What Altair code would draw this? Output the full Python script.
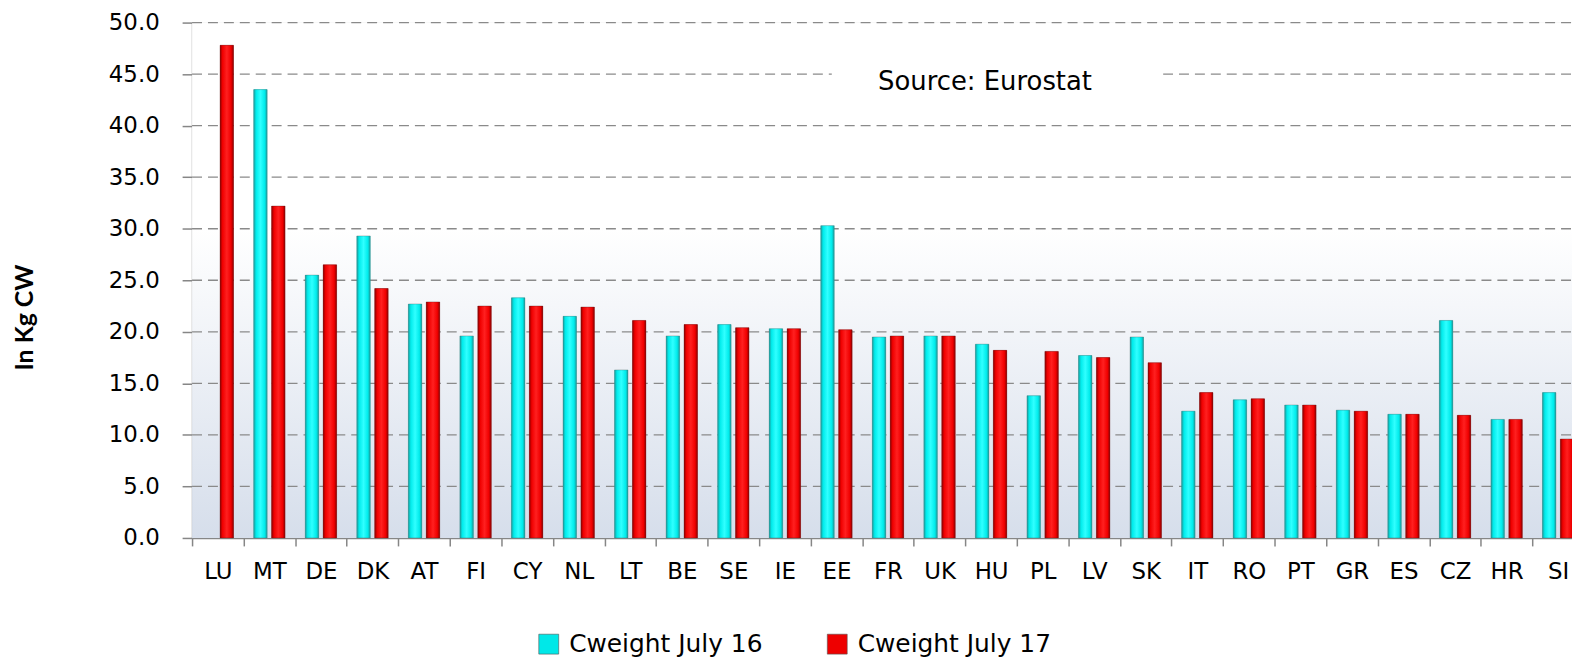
import altair as alt
import pandas as pd

categories = ["LU", "MT", "DE", "DK", "AT", "FI", "CY", "NL", "LT", "BE", "SE", "IE", "EE", "FR",
              "UK", "HU", "PL", "LV", "SK", "IT", "RO", "PT", "GR", "ES", "CZ", "HR", "SI"]
cw_july16 = [None, 43.5, 25.5, 29.3, 22.7, 19.6, 23.3, 21.5, 16.3, 19.6, 20.7, 20.3, 30.3, 19.5,
             19.6, 18.8, 13.8, 17.7, 19.5, 12.3, 13.4, 12.9, 12.4, 12.0, 21.1, 11.5, 14.1]
cw_july17 = [47.8, 32.2, 26.5, 24.2, 22.9, 22.5, 22.5, 22.4, 21.1, 20.7, 20.4, 20.3, 20.2, 19.6,
             19.6, 18.2, 18.1, 17.5, 17.0, 14.1, 13.5, 12.9, 12.3, 12.0, 11.9, 11.5, 9.6]
series_names = ["Cweight July 16", "Cweight July 17"]
y_ticks = [0, 5, 10, 15, 20, 25, 30, 35, 40, 45, 50]
grid_values = [5, 10, 15, 20, 25, 30, 35, 40, 45, 50]
source_text = ["Source: Eurostat"]

W = 1387
H = 518
X_RANGE = 1399  # 27 bands, last one cut by the window edge

rows = []
for c, a, b in zip(categories, cw_july16, cw_july17):
    rows.append({"country": c, "series": series_names[0], "value": a})
    rows.append({"country": c, "series": series_names[1], "value": b})
df = pd.DataFrame(rows)

x_enc = alt.X("country:N", sort=categories,
              scale=alt.Scale(domain=categories, range=[0, X_RANGE], paddingInner=0, paddingOuter=0),
              axis=alt.Axis(title=None, tickBand="extent", tickSize=8, tickColor="#868686", tickWidth=1.5,
                            domainColor="#868686", domainWidth=1.5, labelAngle=0, labelPadding=15,
                            labelFont="DejaVu Sans", labelFontSize=23, labelColor="#000000",
                            grid=False))
xo_enc = alt.XOffset("series:N", scale=alt.Scale(domain=series_names, paddingInner=0.25, paddingOuter=0.564))
y_scale = alt.Scale(domain=[0, 50], nice=False, zero=True)
y_enc = alt.Y("value:Q", scale=y_scale,
              axis=alt.Axis(values=y_ticks, format=".1f", tickSize=10, tickColor="#868686", tickWidth=1.5,
                            domainColor="#868686", domainWidth=1.5, labelPadding=23,
                            labelFont="DejaVu Sans", labelFontSize=23, labelColor="#000000", grid=False,
                            title="In Kg CW", titleFont="Lato",
                            titleFontSize=25, titleFontWeight="bold", titleColor="#000000",
                            titleAngle=-90, titleX=-168, titleY=296, titleAlign="center",
                            titleBaseline="middle"))

bg = alt.Chart(pd.DataFrame({"a": [0]})).mark_rect(
    fill=alt.LinearGradient(gradient="linear", x1=0, y1=0, x2=0, y2=1,
                            stops=[alt.GradientStop(offset=0, color="#ffffff"),
                                   alt.GradientStop(offset=0.4, color="#ffffff"),
                                   alt.GradientStop(offset=1, color="#d6deeb")])
).encode(x=alt.value(0), x2=alt.value(W), y=alt.value(0), y2=alt.value(H))

grid = alt.Chart(pd.DataFrame({"value": grid_values})).mark_rule(
    color="#8a8a8a", strokeDash=[10, 6], strokeWidth=1.3
).encode(y=alt.Y("value:Q"), x=alt.value(0), x2=alt.value(W))

src_df = pd.DataFrame({"t": source_text})
src_box = alt.Chart(src_df).mark_rect(fill="#ffffff").encode(
    x=alt.value(643), x2=alt.value(976), y=alt.value(36), y2=alt.value(82))
src_txt = alt.Chart(src_df).mark_text(
    font="DejaVu Sans", fontSize=26, color="#000000", align="center", baseline="middle"
).encode(x=alt.value(797), y=alt.value(60), text="t:N")

bars = alt.Chart(df).mark_bar().encode(
    x=x_enc, xOffset=xo_enc, y=y_enc,
    color=alt.Color("series:N", scale=alt.Scale(domain=series_names, range=["#00e8e8", "#ee0000"]),
                    legend=alt.Legend(title=None, orient="none", direction="horizontal",
                                      legendX=346, legendY=612, symbolType="square", symbolSize=400,
                                      symbolStrokeColor="#555555", symbolStrokeWidth=0.6,
                                      labelFont="DejaVu Sans", labelFontSize=25, labelColor="#000000",
                                      labelOffset=8, columnPadding=62, labelLimit=0))
)


def grad(dark, main, bright):
    return alt.LinearGradient(gradient="linear", x1=0, y1=0, x2=1, y2=0,
                              stops=[alt.GradientStop(offset=0, color=dark),
                                     alt.GradientStop(offset=0.18, color=main),
                                     alt.GradientStop(offset=0.5, color=bright),
                                     alt.GradientStop(offset=0.82, color=main),
                                     alt.GradientStop(offset=1, color=dark)])


cyan_bars = alt.Chart(df).transform_filter(
    alt.datum.series == series_names[0]
).mark_bar(fill=grad("#1a9c9c", "#00ecec", "#30ffff"), stroke="#4a6a6a", strokeWidth=0.6, strokeOpacity=0.6).encode(
    x=alt.X("country:N", sort=categories), xOffset="series:N", y=alt.Y("value:Q"))

red_bars = alt.Chart(df).transform_filter(
    alt.datum.series == series_names[1]
).mark_bar(fill=grad("#8c0000", "#f00000", "#ff2020"), stroke="#5a1a1a", strokeWidth=0.6, strokeOpacity=0.6).encode(
    x=alt.X("country:N", sort=categories), xOffset="series:N", y=alt.Y("value:Q"))

chart = alt.layer(bg, grid, src_box, src_txt, bars, cyan_bars, red_bars).properties(
    width=W, height=H,
    autosize=alt.AutoSizeParams(type="none"),
    padding={"left": 185, "top": 13, "right": 0, "bottom": 118},
).configure_view(stroke=None).configure(background="#ffffff")

chart.save("out.html", embed_options={"renderer": "svg", "actions": False})
